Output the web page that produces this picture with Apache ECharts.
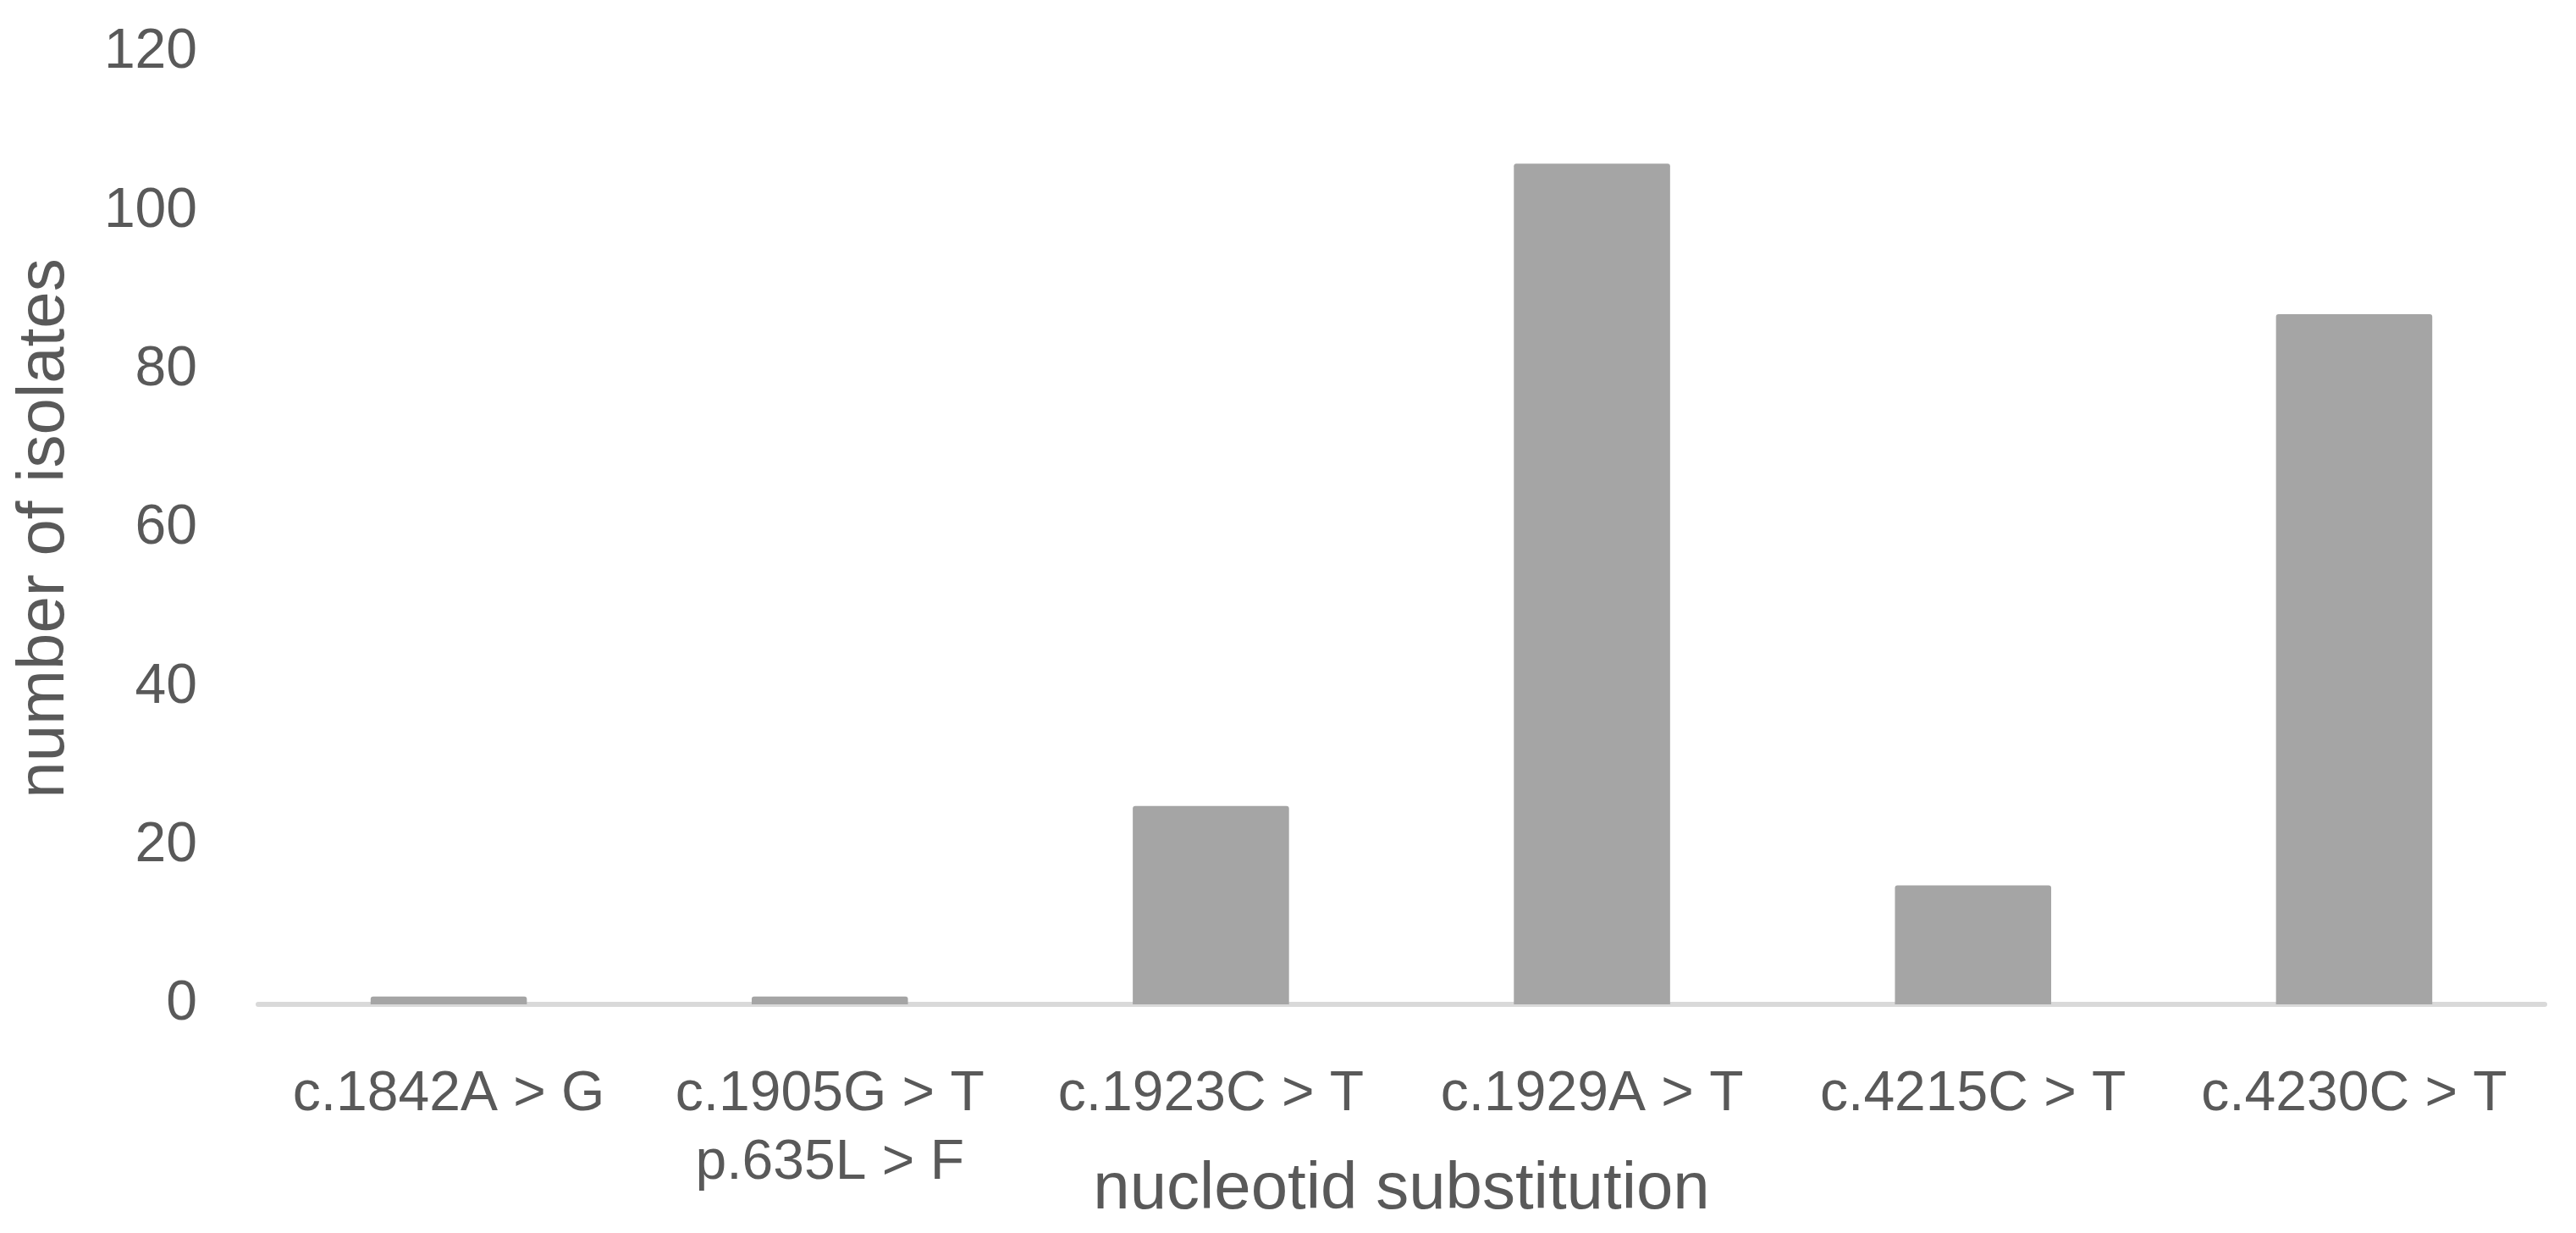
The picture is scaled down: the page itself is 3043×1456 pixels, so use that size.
<!DOCTYPE html>
<html>
<head>
<meta charset="utf-8">
<style>
  html, body { margin: 0; padding: 0; background: #fff; }
  #chart { width: 3043px; height: 1456px; }
</style>
<script src="https://cdn.jsdelivr.net/npm/echarts@6/dist/echarts.min.js"></script>
</head>
<body>
<div id="chart"></div>
<script>
const categories = [
  'c.1842A > G',
  'c.1905G > T\np.635L > F',
  'c.1923C > T',
  'c.1929A > T',
  'c.4215C > T',
  'c.4230C > T'
]
const isolates = [1, 1, 25, 106, 15, 87]
const yTicks = { min: 0, max: 120, interval: 20 }

const textColor = '#595959'
const font = 'Liberation Sans'

const chart = echarts.init(document.getElementById('chart'))

chart.setOption({
  animation: false,
  grid: {
    left: 305,
    right: 37,
    top: 62,
    bottom: 270,
    outerBoundsMode: 'none',
    containLabel: false
  },
  xAxis: {
    type: 'category',
    data: categories,
    name: 'nucleotid substitution',
    nameLocation: 'middle',
    nameGap: 180,
    nameMoveOverlap: false,
    nameTextStyle: { color: textColor, fontFamily: font, fontSize: 78 },
    axisLine: { lineStyle: { color: '#d9d9d9', width: 6 } },
    axisTick: { show: false },
    axisLabel: {
      color: textColor,
      fontFamily: font,
      fontSize: 66,
      lineHeight: 81,
      margin: 66,
      interval: 0
    }
  },
  yAxis: {
    type: 'value',
    min: yTicks.min,
    max: yTicks.max,
    interval: yTicks.interval,
    name: 'number of isolates',
    nameLocation: 'middle',
    nameGap: 213,
    nameMoveOverlap: false,
    nameTextStyle: { color: textColor, fontFamily: font, fontSize: 78 },
    axisLine: { show: false },
    axisTick: { show: false },
    splitLine: { show: false },
    axisLabel: {
      color: textColor,
      fontFamily: font,
      fontSize: 66,
      margin: 72
    }
  },
  series: [
    {
      type: 'bar',
      data: isolates,
      barWidth: '41%',
      itemStyle: { color: '#a5a5a5', borderRadius: [3, 3, 0, 0] }
    }
  ]
})
</script>
</body>
</html>
